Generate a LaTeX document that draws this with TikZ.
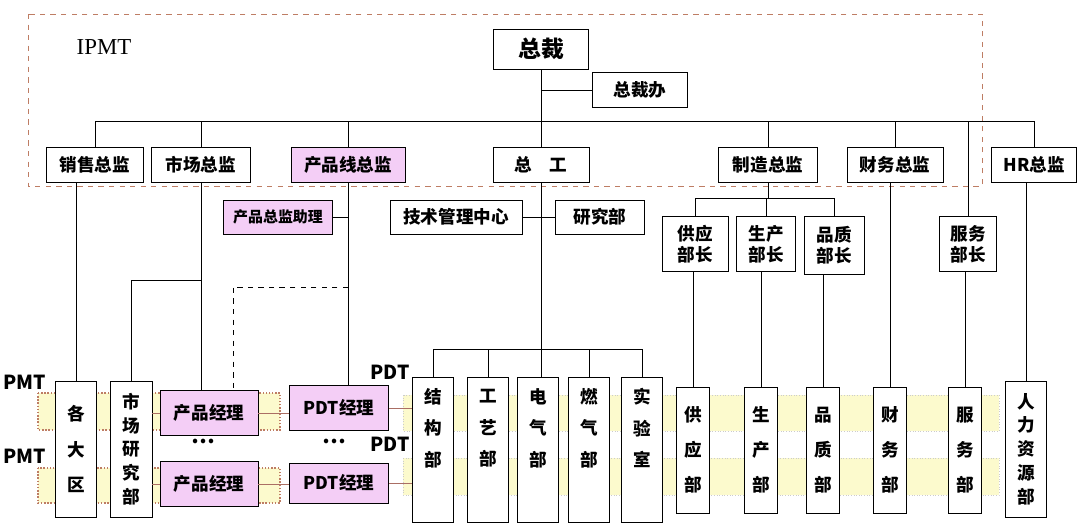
\documentclass[tikz,border=0pt]{standalone}
\usepackage{fontspec}
\setmainfont{Noto Sans CJK SC}
\newfontfamily\ipmtfont{Liberation Serif}
\usetikzlibrary{positioning}
\definecolor{pinkbox}{RGB}{244,206,246}
\definecolor{bandyellow}{RGB}{252,250,205}
\definecolor{ipmtline}{RGB}{190,125,100}
\definecolor{linkbrown}{RGB}{170,110,100}
\tikzset{
  box/.style={draw, fill=white, inner sep=1pt, font=\bfseries\fontsize{10}{12}\selectfont},
  pink/.style={box, fill=pinkbox},
  tall/.style={box, align=center, font=\bfseries\fontsize{10}{20}\selectfont},
  tallfive/.style={box, align=center, font=\bfseries\fontsize{10}{13.5}\selectfont},
  tag/.style={font=\bfseries\fontsize{11}{13}\selectfont, inner sep=0pt},
  link/.style={linkbrown, thin},
  band/.style={fill=bandyellow, draw=gray!40, densely dotted},
  pmtband/.style={fill=bandyellow, draw=ipmtline, densely dotted, thick}
}
\begin{document}
\begin{tikzpicture}[x=0.02cm, y=-0.02cm, line width=0.5pt]
  \useasboundingbox (0,0) rectangle (1080,523);
  % bands
  \draw[pmtband] (38,393) rectangle (280,430);
  \draw[pmtband] (38,468) rectangle (280,503);
  \draw[band] (403,395) rectangle (999,431);
  \draw[band] (403,458) rectangle (999,495);
  \draw[ipmtline, dashed] (28,14) rectangle (982,186);
  \node[font=\ipmtfont\fontsize{13}{15}\selectfont] (ipmt) at (104,47) {IPMT};

  % top levels
  \node[box, minimum width=1.9cm, minimum height=0.8cm, font=\bfseries\fontsize{13}{15}\selectfont] (zc) at (541,49) {总裁};
  \node[box, minimum width=1.9cm, minimum height=0.7cm] (zcb) at (640,90) {总裁办};
  \node[box, minimum width=1.94cm, minimum height=0.7cm] (xs) at (95,165) {销售总监};
  \node[box, minimum width=1.98cm, minimum height=0.7cm] (sc) at (201,165) {市场总监};
  \node[pink, minimum width=2.28cm, minimum height=0.7cm] (cpx) at (348,165) {产品线总监};
  \node[box, minimum width=1.92cm, minimum height=0.7cm] (zg) at (541,165) {总\quad 工};
  \node[box, minimum width=1.98cm, minimum height=0.7cm] (zz) at (768,165) {制造总监};
  \node[box, minimum width=1.92cm, minimum height=0.7cm] (cw) at (895,165) {财务总监};
  \node[box, minimum width=1.7cm, minimum height=0.7cm] (hr) at (1034,165) {HR总监};

  \node[pink, minimum width=2.18cm, minimum height=0.68cm, font=\bfseries\fontsize{8.5}{10}\selectfont] (zl) at (278,217) {产品总监助理};
  \node[box, minimum width=2.64cm, minimum height=0.68cm] (jsg) at (456,217) {技术管理中心};
  \node[box, minimum width=1.78cm, minimum height=0.68cm] (yj) at (600,217) {研究部};
  \node[box, align=center, minimum width=1.32cm, minimum height=1.1cm] (gy) at (695,244) {供应\\部长};
  \node[box, align=center, minimum width=1.18cm, minimum height=1.1cm] (sz) at (766,244) {生产\\部长};
  \node[box, align=center, minimum width=1.2cm, minimum height=1.16cm] (pz) at (834,245) {品质\\部长};
  \node[box, align=center, minimum width=1.14cm, minimum height=1.1cm] (fw) at (968,244) {服务\\部长};

  % bottom row
  \node[tall, minimum width=0.82cm, minimum height=2.72cm] (gdq) at (76,449) {各\\大\\区};
  \node[tallfive, minimum width=0.84cm, minimum height=2.72cm] (scy) at (131,449) {市\\场\\研\\究\\部};
  \node[pink, minimum width=1.96cm, minimum height=0.9cm] (cp1) at (209,413) {产品经理};
  \node[pink, minimum width=1.96cm, minimum height=0.9cm] (cp2) at (209,484) {产品经理};
  \node[pink, minimum width=1.98cm, minimum height=0.9cm] (pdt1) at (339,408) {PDT经理};
  \node[pink, minimum width=1.98cm, minimum height=0.8cm] (pdt2) at (339,483) {PDT经理};
  \node[font=\bfseries\fontsize{12}{14}\selectfont] (dots1) at (203,441) {…};
  \node[font=\bfseries\fontsize{12}{14}\selectfont] (dots2) at (334,441) {…};
  \node[tag] (pmt1) at (25,382) {PMT};
  \node[tag] (pmt2) at (25,456) {PMT};
  \node[tag] (pdtA) at (390,372) {PDT};
  \node[tag] (pdtB) at (390,444) {PDT};

  \foreach \n/\x/\t in {jg/433/结\\构\\部, gyb/488/工\\艺\\部, dq/538/电\\气\\部, rq/589/燃\\气\\部, sys/642/实\\验\\室}
    \node[tall, minimum width=0.81cm, minimum height=2.9cm, anchor=north, font=\bfseries\fontsize{10}{18}\selectfont, text depth=0.9cm] (\n) at (\x,377) {\t};
  \foreach \n/\x/\t in {gyd/693/供\\应\\部, scb/761/生\\产\\部, pzb/823/品\\质\\部, cwb/890/财\\务\\部, fwb/965/服\\务\\部}
    \node[tall, minimum width=0.66cm, minimum height=2.52cm] (\n) at (\x,450) {\t};
  \node[tallfive, minimum width=0.82cm, minimum height=2.72cm] (rl) at (1026,449) {人\\力\\资\\源\\部};

  % connectors
  \coordinate (bus) at (0,121);
  \coordinate (zb) at (0,198);
  \coordinate (sb) at (0,280);
  \coordinate (dsh) at (0,287);
  \coordinate (rb) at (0,349);
  \draw (zc.south) -- (zc.south |- zg.north);
  \draw (zc.south |- zcb.west) -- (zcb.west);
  \draw (xs.north |- bus) -- (hr.north |- bus);
  \foreach \n in {xs,sc,cpx,zz,cw,hr,fw}
    \draw (\n.north) -- (\n.north |- bus);
  \draw (zl.east) -- (zl.east -| cpx.south);
  \draw (jsg) -- (yj);
  \draw (zz.south) -- (zz.south |- zb);
  \draw (gy.north |- zb) -- (pz.north |- zb);
  \foreach \n in {gy,sz,pz}
    \draw (\n.north) -- (\n.north |- zb);
  \draw (gdq.north) -- (gdq.north |- xs.south);
  \draw (sc.south) -- (sc.south |- cp1.north);
  \draw (sc.south |- sb) -| (scy.north);
  \draw[dashed] (cpx.south |- dsh) -| ([xshift=0.48cm]cp1.north);
  \draw (cpx.south) -- (cpx.south |- pdt1.north);
  \draw (zg.south) -- (zg.south |- dq.north);
  \draw (jg.north |- rb) -- (sys.north |- rb);
  \foreach \n in {jg,gyb,rq,sys}
    \draw (\n.north) -- (\n.north |- rb);
  \draw (gyd.north) -- (gyd.north |- gy.south);
  \draw (scb.north) -- (scb.north |- sz.south);
  \draw (pzb.north) -- (pzb.north |- pz.south);
  \draw (cwb.north) -- (cwb.north |- cw.south);
  \draw (fwb.north) -- (fwb.north |- fw.south);
  \draw (rl.north) -- (rl.north |- hr.south);
  % team links
  \draw[link] (cp1.west) -- (cp1.west -| scy.east);
  \draw[link] (cp2.west) -- (cp2.west -| scy.east);
  \draw[link] (cp1.east) -- (cp1.east -| pdt1.west);
  \draw[link] (cp2.east) -- (cp2.east -| pdt2.west);
  \draw[link] (pdt1.east) -- (pdt1.east -| jg.west);
  \draw[link] (pdt2.east) -- (pdt2.east -| jg.west);
\end{tikzpicture}
\end{document}
